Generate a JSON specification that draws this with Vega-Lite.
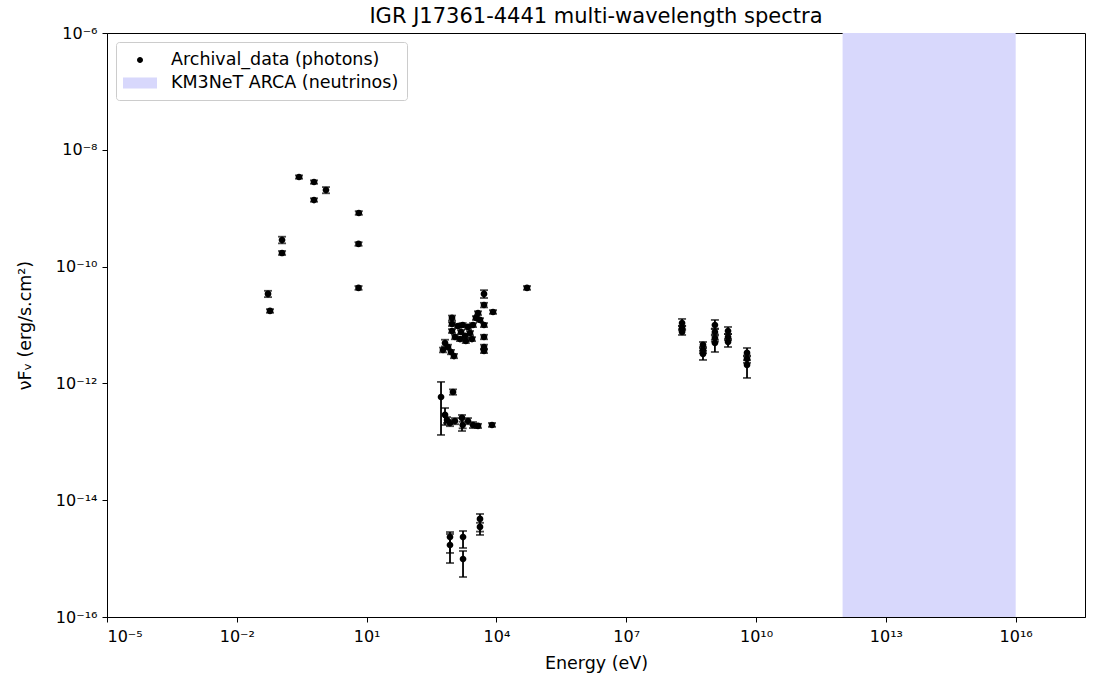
{
  "$schema": "https://vega.github.io/schema/vega-lite/v6.json",
  "width": 978,
  "height": 584,
  "autosize": {"type": "none"},
  "padding": {"left": 107, "top": 33, "right": 11, "bottom": 62},
  "background": "white",
  "title": {"text": "IGR J17361-4441 multi-wavelength spectra", "font": "DejaVu Sans", "fontSize": 21, "fontWeight": "normal", "color": "black", "offset": -2},
  "config": {
    "view": {"stroke": "black", "strokeWidth": 1},
    "axis": {"labelFont": "DejaVu Sans", "labelFontSize": 16, "labelColor": "black", "titleFont": "DejaVu Sans", "titleFontSize": 17.5, "titleFontWeight": "normal", "titleColor": "black", "domainColor": "black", "tickColor": "black", "tickSize": 5, "grid": false, "labelPadding": 3},
    "legend": {"orient": "top-left", "offset": 9, "padding": 8, "symbolSize": 400, "rowPadding": 4, "labelFont": "DejaVu Sans", "labelFontSize": 17.5, "labelColor": "black", "labelLimit": 500, "strokeColor": "#cccccc", "fillColor": "white", "cornerRadius": 3, "symbolOffset": 6, "labelOffset": 21, "symbolStrokeWidth": 0}
  },
  "datasets": {
    "band": [{"emin": 1e12, "emax": 1e16}],
    "sed": [
      {"x":0.0526,"y":3.4e-11,"lo":3.0e-11,"hi":3.85e-11},
      {"x":0.0585,"y":1.74e-11,"lo":1.62e-11,"hi":1.87e-11},
      {"x":0.111,"y":2.85e-10,"lo":2.5e-10,"hi":3.25e-10},
      {"x":0.111,"y":1.71e-10,"lo":1.58e-10,"hi":1.85e-10},
      {"x":0.274,"y":3.42e-9,"lo":3.2e-9,"hi":3.65e-9},
      {"x":0.608,"y":2.81e-9,"lo":2.62e-9,"hi":3.0e-9},
      {"x":0.608,"y":1.38e-9,"lo":1.29e-9,"hi":1.48e-9},
      {"x":1.15,"y":2.05e-9,"lo":1.8e-9,"hi":2.3e-9},
      {"x":6.6,"y":8.28e-10,"lo":7.7e-10,"hi":8.9e-10},
      {"x":6.5,"y":2.44e-10,"lo":2.27e-10,"hi":2.62e-10},
      {"x":6.5,"y":4.31e-11,"lo":4.0e-11,"hi":4.65e-11},
      {"x":50900,"y":4.31e-11,"lo":4.0e-11,"hi":4.65e-11},
      {"x":5160,"y":3.4e-11,"lo":2.9e-11,"hi":3.95e-11},
      {"x":5160,"y":2.2e-11,"lo":2.0e-11,"hi":2.4e-11},
      {"x":5160,"y":1.0e-11,"lo":0.92e-11,"hi":1.08e-11},
      {"x":5160,"y":6.23e-12,"lo":5.7e-12,"hi":6.8e-12},
      {"x":5160,"y":4.2e-12,"lo":3.8e-12,"hi":4.6e-12},
      {"x":5160,"y":3.59e-12,"lo":3.3e-12,"hi":3.9e-12},
      {"x":8340,"y":1.67e-11,"lo":1.55e-11,"hi":1.8e-11},
      {"x":3750,"y":1.6e-11,"lo":1.48e-11,"hi":1.72e-11},
      {"x":4170,"y":1.22e-11,"lo":1.13e-11,"hi":1.31e-11},
      {"x":3370,"y":1.32e-11,"lo":1.22e-11,"hi":1.42e-11},
      {"x":940,"y":1.32e-11,"lo":1.2e-11,"hi":1.45e-11},
      {"x":940,"y":1.04e-11,"lo":0.96e-11,"hi":1.12e-11},
      {"x":940,"y":7.89e-12,"lo":7.3e-12,"hi":8.5e-12},
      {"x":1290,"y":9.61e-12,"lo":8.9e-12,"hi":1.04e-11},
      {"x":1520,"y":7.59e-12,"lo":7.0e-12,"hi":8.2e-12},
      {"x":1880,"y":6.49e-12,"lo":6.0e-12,"hi":7.0e-12},
      {"x":2200,"y":9.25e-12,"lo":8.5e-12,"hi":1.0e-11},
      {"x":2450,"y":7.3e-12,"lo":6.7e-12,"hi":7.9e-12},
      {"x":2720,"y":5.75e-12,"lo":5.3e-12,"hi":6.2e-12},
      {"x":1960,"y":5.32e-12,"lo":4.9e-12,"hi":5.75e-12},
      {"x":1440,"y":5.75e-12,"lo":5.3e-12,"hi":6.2e-12},
      {"x":1100,"y":6.23e-12,"lo":5.7e-12,"hi":6.8e-12},
      {"x":648,"y":4.92e-12,"lo":4.3e-12,"hi":5.6e-12},
      {"x":582,"y":3.73e-12,"lo":3.4e-12,"hi":4.1e-12},
      {"x":760,"y":4.2e-12,"lo":3.85e-12,"hi":4.6e-12},
      {"x":1045,"y":2.94e-12,"lo":2.7e-12,"hi":3.2e-12},
      {"x":890,"y":3.45e-12,"lo":3.15e-12,"hi":3.75e-12},
      {"x":2870,"y":1.0e-11,"lo":0.92e-11,"hi":1.08e-11},
      {"x":1660,"y":1.0e-11,"lo":0.92e-11,"hi":1.08e-11},
      {"x":524,"y":5.85e-13,"lo":1.31e-13,"hi":1.06e-12},
      {"x":991,"y":7.13e-13,"lo":6.4e-13,"hi":7.9e-13},
      {"x":648,"y":2.88e-13,"lo":1.94e-13,"hi":3.79e-13},
      {"x":721,"y":2.36e-13,"lo":2.1e-13,"hi":2.65e-13},
      {"x":845,"y":2.1e-13,"lo":1.85e-13,"hi":2.38e-13},
      {"x":1100,"y":2.27e-13,"lo":2.0e-13,"hi":2.55e-13},
      {"x":1600,"y":2.56e-13,"lo":1.53e-13,"hi":2.88e-13},
      {"x":1660,"y":1.94e-13,"lo":1.7e-13,"hi":2.2e-13},
      {"x":2200,"y":2.27e-13,"lo":2.0e-13,"hi":2.55e-13},
      {"x":2870,"y":1.94e-13,"lo":1.72e-13,"hi":2.18e-13},
      {"x":3750,"y":1.87e-13,"lo":1.72e-13,"hi":2.03e-13},
      {"x":7900,"y":1.94e-13,"lo":1.8e-13,"hi":2.1e-13},
      {"x":845,"y":2.34e-15,"lo":1.25e-15,"hi":2.85e-15},
      {"x":845,"y":1.71e-15,"lo":8.4e-16,"hi":2.64e-15},
      {"x":1690,"y":2.34e-15,"lo":1.52e-15,"hi":2.97e-15},
      {"x":1690,"y":9.84e-16,"lo":4.84e-16,"hi":1.35e-15},
      {"x":4170,"y":4.77e-15,"lo":2.54e-15,"hi":5.81e-15},
      {"x":4170,"y":3.48e-15,"lo":2.9e-15,"hi":4.1e-15},
      {"x":1.95e8,"y":1.08e-11,"lo":9.6e-12,"hi":1.27e-11},
      {"x":1.95e8,"y":8.89e-12,"lo":8.1e-12,"hi":9.7e-12},
      {"x":1.95e8,"y":7.59e-12,"lo":6.75e-12,"hi":8.5e-12},
      {"x":5.94e8,"y":4.55e-12,"lo":4.0e-12,"hi":5.12e-12},
      {"x":5.94e8,"y":3.73e-12,"lo":3.3e-12,"hi":4.2e-12},
      {"x":5.94e8,"y":3.19e-12,"lo":2.52e-12,"hi":3.6e-12},
      {"x":1.12e9,"y":1.0e-11,"lo":8.5e-12,"hi":1.22e-11},
      {"x":1.12e9,"y":7.59e-12,"lo":6.6e-12,"hi":8.7e-12},
      {"x":1.12e9,"y":5.98e-12,"lo":5.2e-12,"hi":6.9e-12},
      {"x":1.12e9,"y":4.92e-12,"lo":3.45e-12,"hi":5.6e-12},
      {"x":2.25e9,"y":7.89e-12,"lo":7.0e-12,"hi":9.25e-12},
      {"x":2.25e9,"y":6.23e-12,"lo":5.5e-12,"hi":7.0e-12},
      {"x":2.25e9,"y":5.12e-12,"lo":4.2e-12,"hi":5.8e-12},
      {"x":6.18e9,"y":3.32e-12,"lo":2.9e-12,"hi":4.04e-12},
      {"x":6.18e9,"y":2.62e-12,"lo":2.25e-12,"hi":3.0e-12},
      {"x":6.18e9,"y":2.07e-12,"lo":1.24e-12,"hi":2.5e-12}
    ]
  },
  "layer": [
    {
      "data": {"name": "band"},
      "mark": {"type": "rect", "color": "#d8d8fc"},
      "encoding": {
        "x": {"field": "emin", "type": "quantitative", "scale": {"type": "log", "domain": [1e-5, 4e17], "nice": false}, "axis": {"title": "Energy (eV)", "labelPadding": 6, "titlePadding": 10, "values": [1e-5, 1e-2, 10, 1e4, 1e7, 1e10, 1e13, 1e16], "labelExpr": "'10' + replace(replace(replace(replace(replace(replace(replace(replace(replace(replace(replace(toString(round(log(datum.value)/LN10)), regexp('-','g'), '⁻'), regexp('0','g'), '⁰'), regexp('1','g'), '¹'), regexp('2','g'), '²'), regexp('3','g'), '³'), regexp('4','g'), '⁴'), regexp('5','g'), '⁵'), regexp('6','g'), '⁶'), regexp('7','g'), '⁷'), regexp('8','g'), '⁸'), regexp('9','g'), '⁹')"}},
        "x2": {"field": "emax"},
        "y": {"datum": 1e-16, "type": "quantitative", "scale": {"type": "log", "domain": [1e-16, 1e-6], "nice": false}, "axis": {"title": "νFᵥ (erg/s.cm²)", "values": [1e-16, 1e-14, 1e-12, 1e-10, 1e-8, 1e-6], "labelPadding": 5, "titlePadding": 21, "labelExpr": "'10' + replace(replace(replace(replace(replace(replace(replace(replace(replace(replace(replace(toString(round(log(datum.value)/LN10)), regexp('-','g'), '⁻'), regexp('0','g'), '⁰'), regexp('1','g'), '¹'), regexp('2','g'), '²'), regexp('3','g'), '³'), regexp('4','g'), '⁴'), regexp('5','g'), '⁵'), regexp('6','g'), '⁶'), regexp('7','g'), '⁷'), regexp('8','g'), '⁸'), regexp('9','g'), '⁹')"}},
        "y2": {"datum": 1e-6}
      }
    },
    {
      "data": {"name": "sed"},
      "mark": {"type": "errorbar", "color": "black", "thickness": 1.8, "ticks": {"size": 8}},
      "encoding": {
        "x": {"field": "x", "type": "quantitative", "title": "Energy (eV)"},
        "y": {"field": "lo", "type": "quantitative", "title": "νFᵥ (erg/s.cm²)"},
        "y2": {"field": "hi"}
      }
    },
    {
      "data": {"name": "sed"},
      "mark": {"type": "point", "filled": true, "opacity": 1, "size": 500},
      "encoding": {
        "x": {"field": "x", "type": "quantitative", "title": "Energy (eV)"},
        "y": {"field": "y", "type": "quantitative", "title": "νFᵥ (erg/s.cm²)"},
        "color": {"datum": "Archival_data (photons)", "scale": {"domain": ["Archival_data (photons)", "KM3NeT ARCA (neutrinos)"], "range": ["black", "#d8d8fc"]}, "legend": {"title": null}},
        "shape": {"datum": "Archival_data (photons)", "scale": {"domain": ["Archival_data (photons)", "KM3NeT ARCA (neutrinos)"], "range": ["M0.3,0A0.3,0.3,0,1,1,-0.3,0A0.3,0.3,0,1,1,0.3,0Z", "M-1.7,-0.55H1.7V0.55H-1.7Z"]}, "legend": {"title": null}}
      }
    }
  ]
}
